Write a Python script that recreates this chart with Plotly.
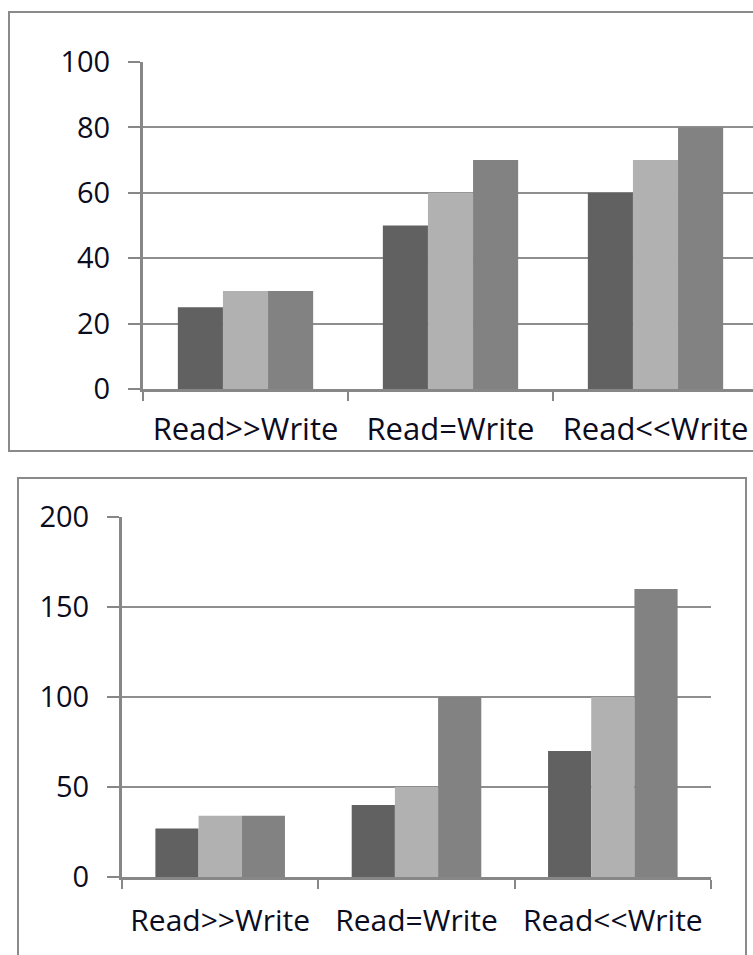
import plotly.graph_objects as go

# Workload mixes on the category axis
categories = ["Read>>Write", "Read=Write", "Read<<Write"]

# Top panel (0-100 scale): three series per workload
top_s1 = [25, 50, 60]
top_s2 = [30, 60, 70]
top_s3 = [30, 70, 80]

# Bottom panel (0-200 scale)
bot_s1 = [27, 40, 70]
bot_s2 = [34, 50, 100]
bot_s3 = [34, 100, 160]

top_ticks = [0, 20, 40, 60, 80, 100]
bot_ticks = [0, 50, 100, 150, 200]

series_colors = ["#616161", "#b1b1b1", "#828282"]

W, H = 753, 955
AX = "#878787"
GRID = "#8e8e8e"
TXT = "#0c0c20"
FONT = "Open Sans"

fig = go.Figure()

for vals, col in zip([top_s1, top_s2, top_s3], series_colors):
    fig.add_trace(go.Bar(x=categories, y=vals, marker=dict(color=col, line=dict(width=0)),
                         xaxis="x", yaxis="y", showlegend=False))
for vals, col in zip([bot_s1, bot_s2, bot_s3], series_colors):
    fig.add_trace(go.Bar(x=categories, y=vals, marker=dict(color=col, line=dict(width=0)),
                         xaxis="x2", yaxis="y2", showlegend=False))


def px_x(p):
    return p / W


def px_y(p):
    return 1 - p / H


xcommon = dict(type="category", showgrid=False, zeroline=False, showline=True,
               linecolor=AX, linewidth=3, ticks="outside", tickson="boundaries",
               ticklen=9, tickwidth=2, tickcolor=AX, fixedrange=True)
ycommon = dict(showgrid=True, gridcolor=GRID, gridwidth=2, zeroline=False,
               showline=True, linecolor=AX, linewidth=3, ticks="outside",
               ticklen=12, tickwidth=2, tickcolor=AX,
               tickfont=dict(family=FONT, size=29, color=TXT))

# Top panel: 205 px per category, plot area runs off the right edge
top_left, top_cat = 143, 205.0
fig.update_layout(
    xaxis=dict(xcommon, domain=[px_x(top_left), 1.0], anchor="y",
               range=[-0.5, -0.5 + (W - top_left) / top_cat], ticklabelstandoff=11,
               tickfont=dict(family=FONT, size=31, color=TXT)),
    yaxis=dict(ycommon, domain=[px_y(389), px_y(62)], anchor="x",
               range=[0, 100], tickvals=top_ticks, ticklabelstandoff=12),
    xaxis2=dict(xcommon, domain=[px_x(122), px_x(711)], anchor="y2",
                range=[-0.5, 2.5], ticklabelstandoff=15,
                tickfont=dict(family=FONT, size=30, color=TXT)),
    yaxis2=dict(ycommon, domain=[px_y(877), px_y(517)], anchor="x2",
                range=[0, 200], tickvals=bot_ticks, ticklabelstandoff=12),
)

# Chart frames
fig.add_shape(type="rect", xref="paper", yref="paper",
              x0=px_x(9), x1=px_x(W + 20), y0=px_y(451), y1=px_y(12),
              line=dict(color="#8a8a8a", width=2), fillcolor="rgba(0,0,0,0)", layer="below")
fig.add_shape(type="rect", xref="paper", yref="paper",
              x0=px_x(18), x1=px_x(746), y0=px_y(H + 20), y1=px_y(478),
              line=dict(color="#8a8a8a", width=2), fillcolor="rgba(0,0,0,0)", layer="below")

fig.update_layout(
    width=W, height=H, margin=dict(l=0, r=0, t=0, b=0),
    paper_bgcolor="white", plot_bgcolor="white",
    barmode="group", bargap=0.34, bargroupgap=0,
    template="none",
)

fig.write_html("out.html")
